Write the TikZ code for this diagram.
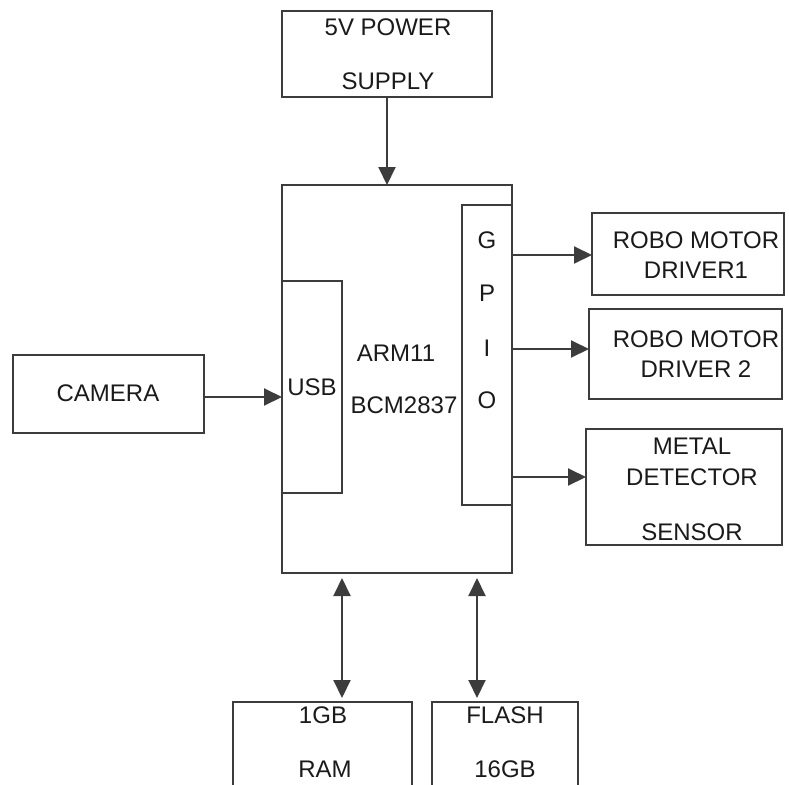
\documentclass[tikz,border=0pt]{standalone}
\usepackage{fontspec}
\setmainfont{Liberation Sans}
\usetikzlibrary{arrows.meta}
\definecolor{linec}{HTML}{3C3C3C}
\definecolor{textc}{HTML}{1A1A1A}
\begin{document}
\begin{tikzpicture}[x=1pt,y=1pt,
  box/.style={draw=linec,line width=2pt},
  lbl/.style={inner sep=0pt,text=textc,font=\fontsize{24}{28}\selectfont},
  conn/.style={draw=linec,line width=2pt,-{Triangle[length=18pt,width=17pt]}},
  bconn/.style={draw=linec,line width=2pt,{Triangle[length=18pt,width=17pt]}-{Triangle[length=18pt,width=17pt]}}]
\useasboundingbox (0,0) rectangle (789,-784);
% boxes
\draw[box] (282,-11) rectangle (492,-97);
\coordinate (pwrS) at (387,-97);
\draw[box] (282,-185) rectangle (512,-573);
\coordinate (mainN) at (387,-185);
\draw[box] (282,-281) rectangle (342,-493);
\draw[box] (462,-205) rectangle (512,-505);
\draw[box] (13,-355) rectangle (204,-433);
\draw[box] (592,-213) rectangle (784,-295);
\draw[box] (589,-309) rectangle (782,-399);
\draw[box] (586,-429) rectangle (782,-545);
\draw[box] (233,-702) rectangle (412,-800);
\draw[box] (432,-702) rectangle (578,-800);
% texts
\node[lbl] (t5v) at (388,-27) {5V POWER};
\node[lbl] (tsup) at (388,-81) {SUPPLY};
\node[lbl] (tusb) at (312,-387) {USB};
\node[lbl] (tarm) at (396,-353) {ARM11};
\node[lbl] (tbcm) at (404,-405) {BCM2837};
\node[lbl] (tg) at (487,-240) {G};
\node[lbl] (tp) at (487,-293) {P};
\node[lbl] (ti) at (487,-348) {I};
\node[lbl] (to) at (487,-400) {O};
\node[lbl] (tcam) at (108,-393) {CAMERA};
\node[lbl] (td1a) at (696,-240) {ROBO MOTOR};
\node[lbl] (td1b) at (696,-270) {DRIVER1};
\node[lbl] (td2a) at (696,-339) {ROBO MOTOR};
\node[lbl] (td2b) at (696,-369) {DRIVER 2};
\node[lbl] (tm1) at (692,-446) {METAL};
\node[lbl] (tm2) at (692,-477) {DETECTOR};
\node[lbl] (tm3) at (692,-532) {SENSOR};
\node[lbl] (tr1) at (323,-715) {1GB};
\node[lbl] (tr2) at (325,-769) {RAM};
\node[lbl] (tf1) at (505,-715) {FLASH};
\node[lbl] (tf2) at (505,-769) {16GB};
% connector endpoints
\coordinate (camE) at (204,-397);
\coordinate (usbW) at (282,-397);
\coordinate (g1) at (512,-255);
\coordinate (d1) at (592,-255);
\coordinate (g2) at (512,-349);
\coordinate (d2) at (589,-349);
\coordinate (g3) at (512,-477);
\coordinate (d3) at (586,-477);
\coordinate (mR) at (342,-578);
\coordinate (rN) at (342,-698);
\coordinate (mF) at (477,-578);
\coordinate (fN) at (477,-698);
% connectors
\draw[conn] (pwrS) -- (mainN);
\draw[conn] (camE) -- (usbW);
\draw[conn] (g1) -- (d1);
\draw[conn] (g2) -- (d2);
\draw[conn] (g3) -- (d3);
\draw[bconn] (mR) -- (rN);
\draw[bconn] (mF) -- (fN);
\end{tikzpicture}
\end{document}
